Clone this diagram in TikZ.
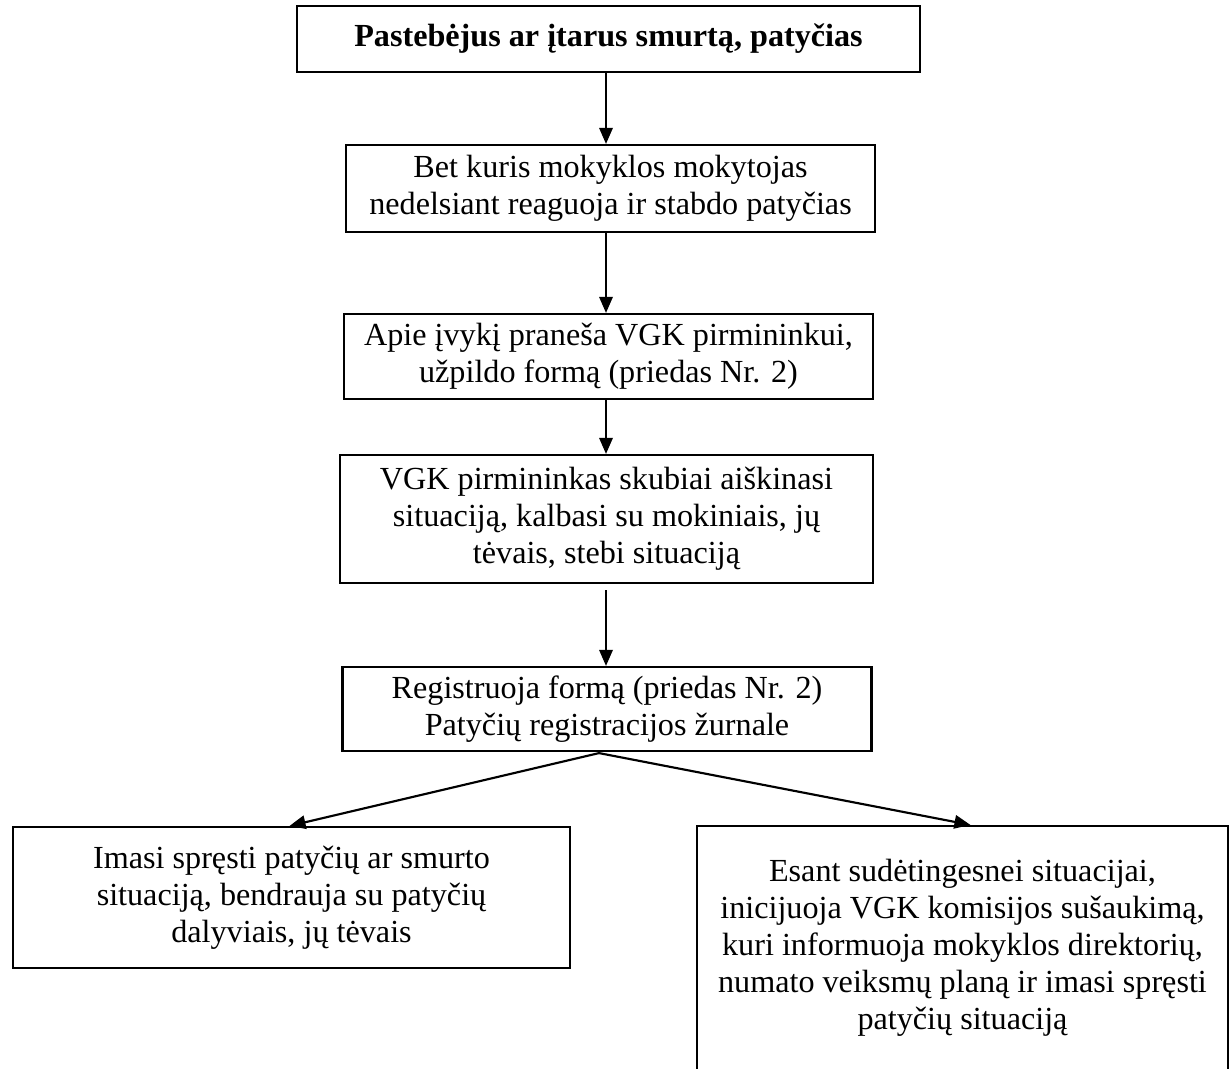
\documentclass[tikz,border=0pt]{standalone}
\usepackage{fontspec}
\setmainfont{Liberation Serif}
\usepackage{xcolor}
\usepackage{tikz}
\usetikzlibrary{arrows.meta,positioning,calc}
\tikzset{
  blok/.style={draw,rectangle,line width=0.8pt,align=center,inner sep=0pt,
    font=\fontsize{12}{13.8}\selectfont},
  rod/.style={-{Triangle[length=6pt,width=5pt]},line width=0.8pt},
}

\begin{document}
\begin{tikzpicture}[x=0.373pt,y=-0.373pt]
    \def\px{0.373pt}
    \useasboundingbox (0,0) rectangle (1231,1068);
    % pradzia
    \node[blok,minimum width=623*\px,minimum height=66*\px,font=\fontsize{12}{13.8}\selectfont\bfseries]
      (pradzia) at (608.5,39) {Pastebėjus ar įtarus smurtą, patyčias};
    \node[blok,minimum width=529*\px,minimum height=87*\px] (mokyt) at (610.5,188.5)
      {Bet kuris mokyklos mokytojas\\nedelsiant reaguoja ir stabdo patyčias};
    \node[blok,minimum width=529*\px,minimum height=85*\px] (pranes) at (608.5,356.5)
      {Apie įvykį praneša VGK pirmininkui,\\užpildo formą (priedas Nr. 2)};
    \node[blok,minimum width=533*\px,minimum height=128*\px] (aiskin) at (606.5,519)
      {VGK pirmininkas skubiai aiškinasi\\situaciją, kalbasi su mokiniais, jų\\tėvais, stebi situaciją};
    \node[blok,minimum width=529*\px,minimum height=84*\px] (regist) at (607,709)
      {Registruoja formą (priedas Nr. 2)\\Patyčių registracijos žurnale};
    % dvi sakos
    \node[blok,minimum width=557*\px,minimum height=141*\px] (kaire) at (291.5,897.5)
      {Imasi spręsti patyčių ar smurto\\situaciją, bendrauja su patyčių\\dalyviais, jų tėvais};
    \node[blok,minimum width=531*\px,minimum height=244*\px] (desine) at (962.5,948)
      {Esant sudėtingesnei situacijai,\\inicijuoja VGK komisijos sušaukimą,\\kuri informuoja mokyklos direktorių,\\numato veiksmų planą ir imasi spręsti\\patyčių situaciją};
    % rodykles
    \draw[rod] (pradzia.south -| 606,0) -- (mokyt.north -| 606,0);
    \draw[rod] (mokyt.south -| 606,0) -- (pranes.north -| 606,0);
    \draw[rod] (pranes.south -| 606,0) -- (aiskin.north -| 606,0);
    \draw[rod,shorten <=6*\px] (aiskin.south -| 606,0) -- (regist.north -| 606,0);
    \coordinate (sak) at ($(regist.south)+(-8,1)$);
    \draw[rod] (sak) -- ([xshift=-2*\px]kaire.north);
    \draw[rod] (sak) -- ([xshift=8*\px]desine.north);
\end{tikzpicture}
\end{document}
